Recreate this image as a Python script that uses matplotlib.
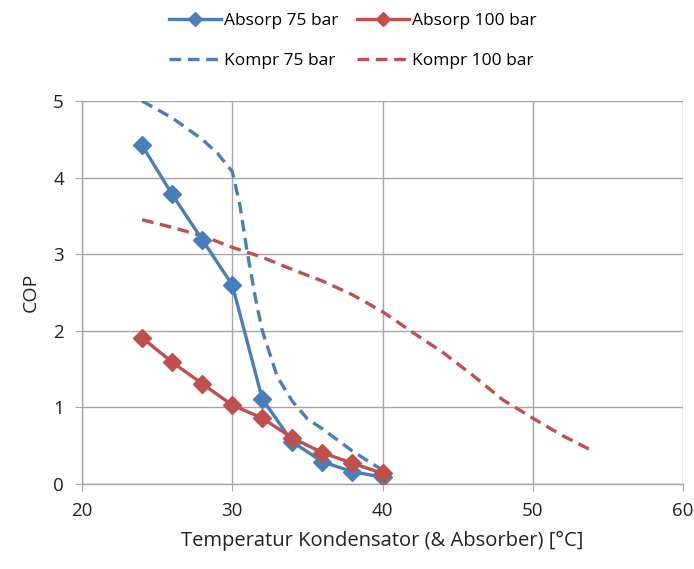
"""
COP vs. Kondensatortemperatur — Absorption / Kompression
"""
import matplotlib
matplotlib.use('Agg')
import matplotlib.pyplot as plt

plt.rcParams['font.family'] = ['Open Sans', 'DejaVu Sans']

BLUE = '#4a7ebb'
RED = '#c0504d'

# Absorption (Messpunkte)
t_absorp = [24, 26, 28, 30, 32, 34, 36, 38, 40]
cop_absorp_75 = [4.42, 3.78, 3.19, 2.60, 1.11, 0.55, 0.29, 0.16, 0.09]
cop_absorp_100 = [1.91, 1.59, 1.31, 1.03, 0.86, 0.60, 0.41, 0.27, 0.14]

# Kompression (Kurven)
t_kompr_75 = [24, 26, 28, 29, 30, 30.5, 31, 31.6, 32, 33, 34, 35, 36, 38, 40]
cop_kompr_75 = [5.0, 4.78, 4.5, 4.32, 4.08, 3.65, 3.02, 2.37, 2.0, 1.4, 1.08, 0.85, 0.72, 0.43, 0.18]
t_kompr_100 = [24, 26, 28, 30, 32, 34, 36, 38, 40, 42, 44, 46, 48, 50, 52, 54]
cop_kompr_100 = [3.45, 3.35, 3.24, 3.09, 2.96, 2.8, 2.65, 2.47, 2.25, 1.98, 1.72, 1.42, 1.1, 0.86, 0.63, 0.43]

fig = plt.figure(figsize=(6.94, 5.69), dpi=100)
ax = fig.add_axes([82 / 694, 1 - 484 / 569, 601 / 694, 383 / 569])

ax.plot(t_absorp, cop_absorp_75, color=BLUE, lw=2.4, marker='D', ms=9,
        label='Absorp 75 bar', zorder=4)
ax.plot(t_kompr_75, cop_kompr_75, color=BLUE, lw=2.4, ls=(0, (3.5, 2)),
        label='Kompr 75 bar', zorder=3)
ax.plot(t_absorp, cop_absorp_100, color=RED, lw=2.4, marker='D', ms=9,
        label='Absorp 100 bar', zorder=5)
ax.plot(t_kompr_100, cop_kompr_100, color=RED, lw=2.4, ls=(0, (3.5, 2)),
        label='Kompr 100 bar', zorder=3)

ax.set_xlim(20, 60)
ax.set_ylim(0, 5)
ax.set_xticks([20, 30, 40, 50, 60])
ax.set_yticks([0, 1, 2, 3, 4, 5])
ax.grid(True, color='#a6a6a6', lw=1)
ax.set_axisbelow(True)
for s in ['top', 'right']:
    ax.spines[s].set_visible(False)
for s in ['left', 'bottom']:
    ax.spines[s].set_color('#a6a6a6')
    ax.spines[s].set_linewidth(1)
ax.tick_params(axis='both', direction='out', length=5, color='#a6a6a6',
               labelsize=13.5, pad=8, labelcolor='#222')

ax.set_xlabel('Temperatur Kondensator (& Absorber) [°C]', fontsize=14.5, labelpad=8, color='#222')
ax.set_ylabel('COP', fontsize=14, labelpad=10, color='#222')

# Legende oben, zwei Spalten, ohne Rahmen
leg = fig.legend(loc='upper center', bbox_to_anchor=(0.508, 1.005), ncol=2, frameon=False,
                 fontsize=12.5, handlelength=3.0, handletextpad=0.15, columnspacing=1.1,
                 labelspacing=1.4, borderpad=0.4)
for h in leg.legend_handles:
    h.set_markersize(7)

fig.savefig('out.png', dpi=100)
